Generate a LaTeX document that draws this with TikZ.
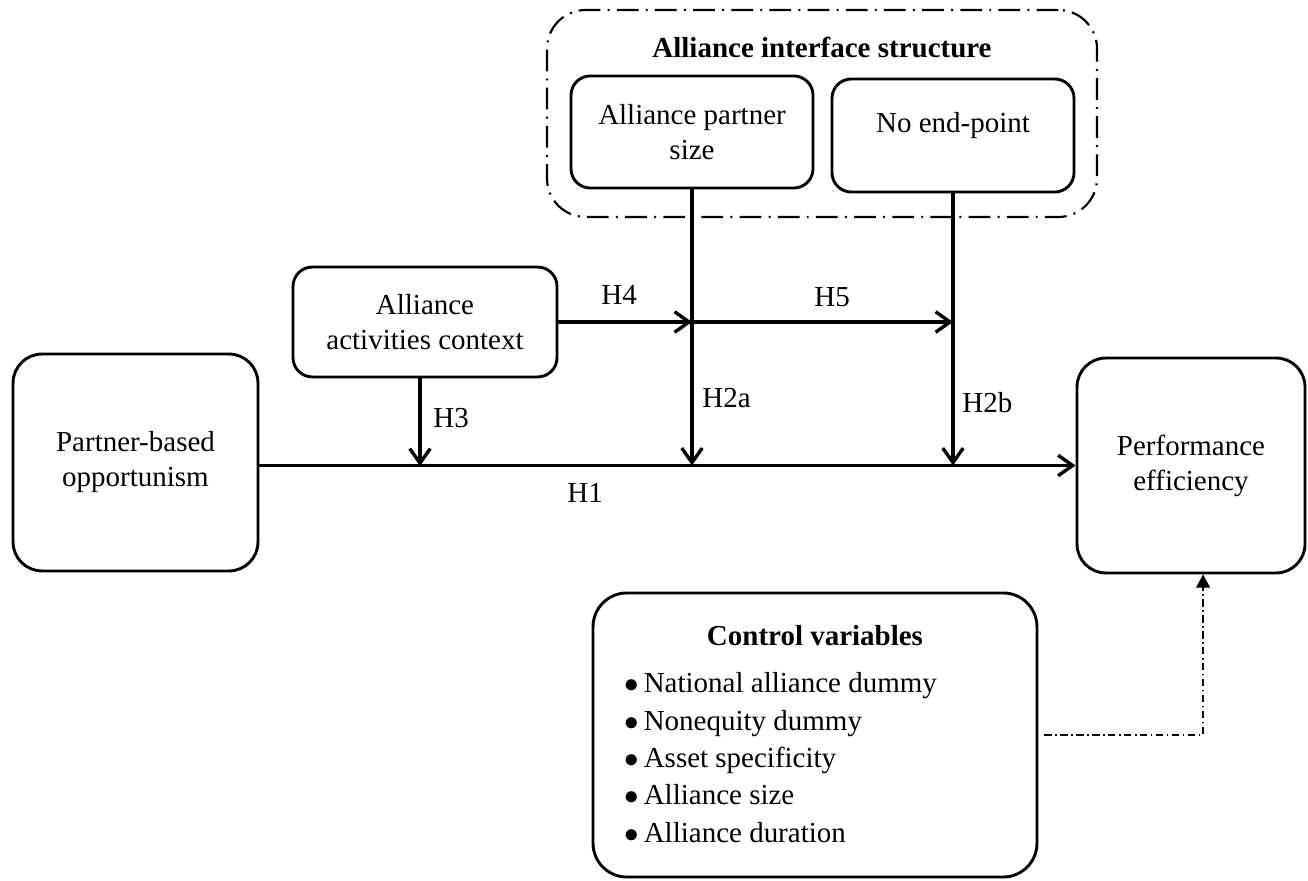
\documentclass[tikz,border=0pt,12pt]{standalone}
\usepackage{fontspec}
\setmainfont{Liberation Serif}
\usepackage{tikz}
\usetikzlibrary{arrows.meta,calc}
\tikzset{
	block/.style={
		draw,
		line width=1.2pt,
		rounded corners=#1,
		inner sep=2pt
	},
	block/.default=8pt,
	groupframe/.style={
		draw,
		line width=0.9pt,
		rounded corners=16pt,
		dash pattern=on 9pt off 3pt on 0.8pt off 3pt
	},
	hypothesis/.style={
		-{Straight Barb[length=6pt,width=8.5pt]},
		line width=1.4pt
	},
	controllink/.style={
		-{Triangle[length=5.5pt,width=5.8pt]},
		line width=0.5pt,
		dash pattern=on 3pt off 1.5pt on 0.6pt off 1.5pt
	},
	hlabel/.style={
		anchor=base west,
		inner sep=0
	}
}

\begin{document}
\begin{tikzpicture}[x=0.414pt, y=-0.414pt]

	\useasboundingbox (0,0) rectangle (1308,881);

	%% Alliance interface structure
	\node[groupframe, minimum width=227.7pt, minimum height=85.7pt] (ais) at (822,113.5) {};
	\node[font=\bfseries, anchor=base] (aistitle) at (822,58) {Alliance interface structure};
	\node[block, minimum width=100.2pt, minimum height=46.4pt, align=center] (aps) at (692,132) {Alliance partner\\size};
	\node[block, minimum width=100.2pt, minimum height=46.8pt, text depth=10.5pt] (nep) at (953,135.5) {No end-point};

	%% Main model
	\node[block=12pt, minimum width=101.4pt, minimum height=89.8pt, align=center] (pbo) at (135.5,462.5) {Partner-based\\opportunism};
	\node[block=12pt, minimum width=94.4pt, minimum height=89pt, align=center] (pe) at (1191,465.5) {Performance\\efficiency};
	\node[block, minimum width=109.3pt, minimum height=45.5pt, align=center] (aac) at (425,322) {Alliance\\activities context};

	%% Control variables
	\node[block=14pt, minimum width=183.8pt, minimum height=117.6pt] (cv) at (815,735) {};
	\node[font=\bfseries, anchor=base] (cvtitle) at (815,645) {Control variables};
	\node[anchor=north west, inner sep=0, align=left, font=\fontsize{12}{15.5}\selectfont] (cvlist) at (624,672) {%
		$\bullet$\,National alliance dummy\\
		$\bullet$\,Nonequity dummy\\
		$\bullet$\,Asset specificity\\
		$\bullet$\,Alliance size\\
		$\bullet$\,Alliance duration};

	% Hypotheses
	\coordinate (j3) at (420,466);
	\draw[hypothesis] (pbo.east |- pe.west) -- (pe.west);
	\draw[hypothesis] (aac.south -| j3) -- (j3);
	\draw[hypothesis] (aps.south) -- (aps.south |- pe.west);
	\draw[hypothesis] (nep.south) -- (nep.south |- pe.west);
	\draw[hypothesis] (aac.east) -- (aps.south |- aac.east);
	\draw[hypothesis] (aps.south |- aac.east) -- (nep.south |- aac.east);
	\draw[controllink] ([xshift=2.5pt]cv.east) -| ([xshift=5pt]pe.south);

	% Labels
	\node[hlabel] (lh1) at (567,502) {H1};
	\node[hlabel] (lh2a) at (702,408) {H2a};
	\node[hlabel] (lh2b) at (962,413) {H2b};
	\node[hlabel] (lh3) at (433,428) {H3};
	\node[hlabel] (lh4) at (601,305) {H4};
	\node[hlabel] (lh5) at (814,307) {H5};

\end{tikzpicture}
\end{document}
